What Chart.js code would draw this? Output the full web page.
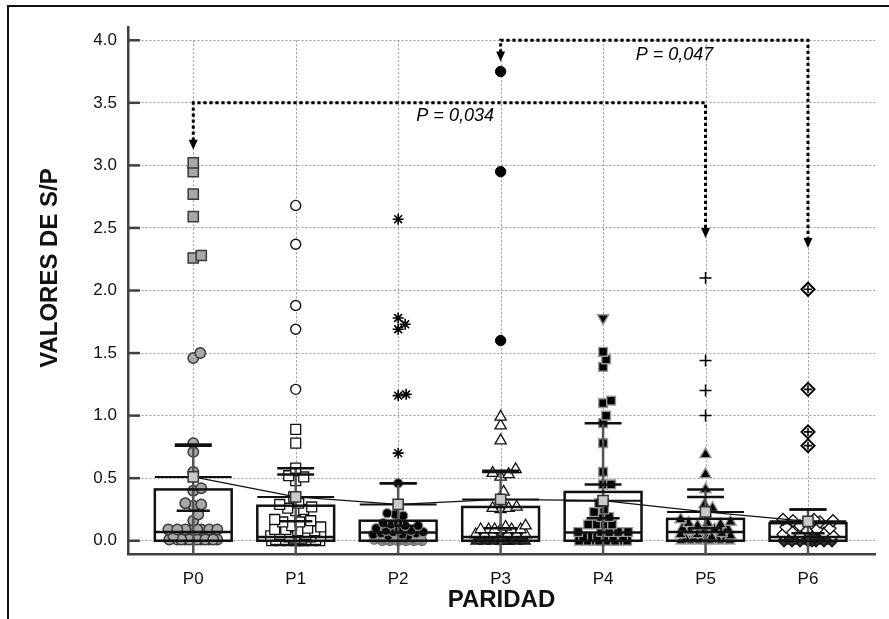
<!DOCTYPE html>
<html>
<head>
<meta charset="utf-8">
<script src="https://cdn.jsdelivr.net/npm/chart.js@4.4.1/dist/chart.umd.min.js"></script>
<style>
    html, body { margin: 0; padding: 0; background: #fff; }
    #wrap { position: relative; width: 889px; height: 619px; overflow: hidden; }
    #wrap canvas { position: absolute; left: 0; top: 0; }
    #frame { position: absolute; left: 7px; top: 5px; width: 900px; height: 700px; border-left: 2px solid #111; border-top: 2px solid #111; pointer-events: none; }
</style>
</head>
<body>
<div id="wrap">
    <canvas id="spChart" width="889" height="619"></canvas>
    <div id="frame"></div>
</div>
<script>
// DATA
const categories = ['P0', 'P1', 'P2', 'P3', 'P4', 'P5', 'P6'];
const yTicks = [0, 0.5, 1, 1.5, 2, 2.5, 3, 3.5, 4];

// box summary per parity group
const boxLow    = [0, 0, 0, 0, 0, 0, 0];
const boxHigh   = [0.41, 0.28, 0.16, 0.27, 0.39, 0.175, 0.14];
const medians   = [0.07, 0.03, 0.065, 0.03, 0.065, 0.07, 0.03];
const means     = [0.51, 0.35, 0.29, 0.33, 0.32, 0.23, 0.155];
const whiskerTop = [0.77, 0.58, 0.46, 0.56, 0.94, 0.41, 0.25];
const ciHigh    = [0.76, 0.53, 0.46, 0.55, 0.45, 0.35, 0.25];
const ciLow     = [0.24, 0.155, 0.12, 0.10, 0.18, 0.10, 0.06];

// individual S/P values
const valuesP0 = [1.50, 1.46, 0.78, 0.71, 0.55, 0.42, 0.40, 0.30, 0.29, 0.28, 0.21, 0.16,
    0.09, 0.09, 0.09, 0.09, 0.09, 0.09, 0.09, 0.09, 0.04,
    0.01, 0.01, 0.01, 0.01, 0.01, 0.01, 0.01, 0.01, 0.01, 0.01, 0.01, 0.01];
const outliersP0 = [3.02, 2.95, 2.77, 2.59, 2.28, 2.26];

const valuesP1 = [0.89, 0.78, 0.58, 0.52, 0.51, 0.48, 0.35, 0.30, 0.29, 0.27, 0.26, 0.25, 0.24,
    0.17, 0.16, 0.15, 0.15, 0.12, 0.11, 0.10, 0.09, 0.09, 0.08, 0.08, 0.05, 0.05, 0.04, 0.04,
    0.03, 0.03, 0.02, 0.02, 0.01, 0.01, 0.01, 0.01, 0.01, 0.01,
    0.0, 0.0, 0.0, 0.0, 0.0, 0.0, 0.0, 0.0];
const outliersP1 = [2.68, 2.37, 1.88, 1.69, 1.21];

const valuesP2 = [0.46, 0.22, 0.21, 0.20, 0.15, 0.14, 0.13, 0.12, 0.12, 0.10, 0.09, 0.08, 0.08,
    0.07, 0.07, 0.06, 0.06, 0.05, 0.05, 0.04, 0.04, 0.03, 0.03,
    0.02, 0.02, 0.02, 0.02, 0.02, 0.02, 0.01, 0.01, 0.01, 0.01, 0.01, 0.01,
    0.0, 0.0, 0.0, 0.0, 0.0, 0.0];
const outliersP2 = [2.57, 1.78, 1.73, 1.69, 1.17, 1.16, 0.70];

const valuesP3 = [0.99, 0.92, 0.80, 0.57, 0.54, 0.53, 0.51, 0.39, 0.33, 0.27, 0.26, 0.26, 0.25,
    0.12, 0.11, 0.09, 0.09, 0.09, 0.09, 0.09, 0.09, 0.05, 0.05, 0.05, 0.05, 0.05, 0.05,
    0.02, 0.02, 0.02, 0.02, 0.02, 0.02, 0.0, 0.0, 0.0, 0.0, 0.0, 0.0, 0.0, 0.0];
const outliersP3 = [3.75, 2.95, 1.60];

const valuesP4 = [1.51, 1.45, 1.39, 1.12, 1.10, 1.00, 0.94, 0.78, 0.55, 0.45, 0.45, 0.30, 0.25, 0.23,
    0.19, 0.19, 0.13, 0.13, 0.13, 0.13, 0.07, 0.07, 0.07, 0.07, 0.07,
    0.03, 0.03, 0.03, 0.03, 0.03, 0.03, 0.0, 0.0, 0.0, 0.0, 0.0, 0.0, 0.0, 0.0, 0.0, 0.0];
const outliersP4 = [1.78];

const valuesP5 = [0.69, 0.53, 0.41, 0.29, 0.26, 0.22, 0.17, 0.15, 0.14, 0.14, 0.13, 0.12, 0.10, 0.10,
    0.09, 0.08, 0.08, 0.06, 0.05, 0.05, 0.04, 0.03, 0.02, 0.02, 0.02, 0.02, 0.02, 0.02,
    0.0, 0.0, 0.0, 0.0, 0.0, 0.0, 0.0, 0.0];
const outliersP5 = [2.10, 1.44, 1.20, 1.00];

const valuesP6 = [0.17, 0.17, 0.16, 0.16, 0.15, 0.15, 0.12, 0.11, 0.10, 0.09, 0.08, 0.07, 0.06,
    0.05, 0.05, 0.04, 0.03, 0.02, 0.02, 0.02, 0.02, 0.02, 0.02, 0.0, 0.0, 0.0, 0.0, 0.0, 0.0, 0.0, 0.0];
const outliersP6 = [2.01, 1.21, 0.87, 0.76];

// significance brackets (category indices, y levels in S/P units)
const brackets = [
    { from: 0, to: 5, level: 3.5, fromTip: 3.125, toTip: 2.42, text: 'P = 0,034', tx: 2.556, ty: 3.397 },
    { from: 3, to: 6, level: 4.0, fromTip: 3.83,  toTip: 2.34, text: 'P = 0,047', tx: 4.698, ty: 3.885 }
];

// LAYOUT / THEME
const FONT = "'Liberation Sans', Arial, sans-serif";
const PX_PER_CAT = 102.5;   // approx pixel size of one category step
const PX_PER_UNIT = 125;    // approx pixel size of 1.0 S/P
const SPREAD = 25;          // max horizontal jitter, px
const BOX_W = 0.75;
const CAP_W = 0.36;

// place points side by side when they overlap (deterministic swarm)
function swarm(values, cat, minDist) {
    const placed = [];
    values.slice().sort((a, b) => a - b).forEach(v => {
        let bestS = 0, bestD = -1;
        for (let k = 0; k <= 2 * SPREAD; k++) {
            const s = k % 2 ? (k + 1) / 2 : -k / 2;
            let d = Infinity;
            placed.forEach(p => { d = Math.min(d, Math.hypot(s - p.s, (v - p.v) * PX_PER_UNIT)); });
            if (d >= minDist) { bestS = s; bestD = d; break; }
            if (d > bestD) { bestD = d; bestS = s; }
        }
        placed.push({ s: bestS, v: v });
    });
    return placed.map(p => ({ x: cat + p.s / PX_PER_CAT, y: p.v }));
}

const low = (ctx, lowColor, color) => (ctx.raw && ctx.raw.y < 0.035 ? lowColor : color);

function pts(values, cat, minDist, style) {
    return Object.assign({ type: 'scatter', order: 1, showLine: false, data: swarm(values, cat, minDist) }, style);
}

// earlier datasets are painted on top
const datasets = [
    {
        id: 'mean', type: 'line', order: 0, showLine: true,
        data: means.map((m, i) => ({ x: i, y: m })),
        borderColor: '#111', borderWidth: 1.3, tension: 0,
        pointStyle: 'rect', pointRadius: 7.2, pointBackgroundColor: '#c9c9c9',
        pointBorderColor: '#333', pointBorderWidth: 1.5
    },
    // P0
    pts(valuesP0, 0, 8, { pointStyle: 'circle', pointRadius: 5.2, pointBackgroundColor: '#a8a8a8', pointBorderColor: '#3a3a3a', pointBorderWidth: 1.5 }),
    pts(outliersP0, 0, 8, { pointStyle: 'rect', pointRadius: 7.2, pointBackgroundColor: '#a8a8a8', pointBorderColor: '#3a3a3a', pointBorderWidth: 1.5 }),
    // P1
    pts(valuesP1, 1, 8, { pointStyle: 'rect', pointRadius: 7, pointBackgroundColor: '#fff', pointBorderColor: '#111', pointBorderWidth: 1.3 }),
    pts(outliersP1, 1, 8, { pointStyle: 'circle', pointRadius: 5, pointBackgroundColor: '#fff', pointBorderColor: '#111', pointBorderWidth: 1.4 }),
    // P2
    pts(valuesP2, 2, 8, { pointStyle: 'circle', pointRadius: 4.6,
        pointBackgroundColor: ctx => low(ctx, '#9a9a9a', '#000'), pointBorderColor: ctx => low(ctx, '#6a6a6a', '#8a8a8a'), pointBorderWidth: 1.2 }),
    pts(outliersP2, 2, 8, { pointStyle: 'star', pointRadius: 5.5, pointBorderColor: '#000', pointBorderWidth: 1.6 }),
    // P3
    pts(valuesP3, 3, 8, { pointStyle: 'triangle', pointRadius: 6.5,
        pointBackgroundColor: ctx => low(ctx, '#444', '#fff'), pointBorderColor: '#111', pointBorderWidth: 1.3 }),
    pts(outliersP3, 3, 8, { pointStyle: 'circle', pointRadius: 5.2, pointBackgroundColor: '#000', pointBorderColor: '#000', pointBorderWidth: 1 }),
    // P4
    pts(valuesP4, 4, 8, { pointStyle: 'rect', pointRadius: 6.2, pointBackgroundColor: '#000', pointBorderColor: '#999', pointBorderWidth: 1.4 }),
    pts(outliersP4, 4, 8, { pointStyle: 'triangle', rotation: 180, pointRadius: 6.5, pointBackgroundColor: '#000', pointBorderColor: '#999', pointBorderWidth: 1.4 }),
    // P5
    pts(valuesP5, 5, 8, { pointStyle: 'triangle', pointRadius: 6.5,
        pointBackgroundColor: '#000', pointBorderColor: ctx => low(ctx, '#aaa', '#999'), pointBorderWidth: 1.4 }),
    pts(outliersP5, 5, 8, { pointStyle: 'cross', pointRadius: 6, pointBorderColor: '#000', pointBorderWidth: 1.5 }),
    // P6 (plus sign above its diamond)
    pts(outliersP6, 6, 8, { pointStyle: 'cross', pointRadius: 4, pointBorderColor: '#000', pointBorderWidth: 1.6 }),
    pts(outliersP6, 6, 8, { pointStyle: 'rectRot', pointRadius: 6.5, pointBackgroundColor: '#fff', pointBorderColor: '#000', pointBorderWidth: 2 }),
    pts(valuesP6, 6, 8, { pointStyle: 'rectRot', pointRadius: 6,
        pointBackgroundColor: ctx => low(ctx, '#333', '#fff'), pointBorderColor: '#111', pointBorderWidth: 1.3 })
];

function hLine(ctx, x1, x2, y) {
    ctx.beginPath(); ctx.moveTo(x1, y); ctx.lineTo(x2, y); ctx.stroke();
}

// BOXES, GRID AND ANNOTATIONS
const boxPlugin = {
    id: 'boxes',
    beforeDatasetsDraw(chart) {
        const { ctx, scales: { x, y }, chartArea } = chart;
        ctx.save();
        ctx.strokeStyle = '#9a9a9a';
        ctx.lineWidth = 1;
        ctx.setLineDash([2, 2]);
        categories.forEach((c, i) => {
            const px = Math.round(x.getPixelForValue(i)) + 0.5;
            ctx.beginPath();
            ctx.moveTo(px, y.getPixelForValue(yTicks[yTicks.length - 1]));
            ctx.lineTo(px, chartArea.bottom);
            ctx.stroke();
        });
        ctx.restore();
    },
    beforeDatasetDraw(chart, args) {
        if (chart.data.datasets[args.index].id !== 'mean') return;
        const { ctx, scales: { x, y }, chartArea } = chart;
        ctx.save();
        categories.forEach((c, i) => {
            const xc = x.getPixelForValue(i);
            const hb = x.getPixelForValue(i + BOX_W / 2) - xc;
            const hc = x.getPixelForValue(i + CAP_W / 2) - xc;
            // whisker stem
            ctx.strokeStyle = '#555';
            ctx.lineWidth = 2.5;
            ctx.beginPath();
            ctx.moveTo(xc, chartArea.bottom);
            ctx.lineTo(xc, y.getPixelForValue(whiskerTop[i]));
            ctx.stroke();
            // box
            ctx.strokeStyle = '#111';
            ctx.lineWidth = 2.5;
            const top = y.getPixelForValue(boxHigh[i]);
            const bot = y.getPixelForValue(boxLow[i]);
            ctx.strokeRect(xc - hb, top, 2 * hb, bot - top);
            hLine(ctx, xc - hb, xc + hb, y.getPixelForValue(medians[i]));
            // mean line and caps
            ctx.lineWidth = 2;
            hLine(ctx, xc - hb, xc + hb, y.getPixelForValue(means[i]));
            ctx.lineWidth = 2.5;
            hLine(ctx, xc - hc, xc + hc, y.getPixelForValue(whiskerTop[i]));
            hLine(ctx, xc - hc, xc + hc, y.getPixelForValue(ciHigh[i]));
            hLine(ctx, xc - hc * 0.9, xc + hc * 0.9, y.getPixelForValue(ciLow[i]));
        });
        ctx.restore();
    },
    afterDatasetsDraw(chart) {
        const { ctx, scales: { x, y } } = chart;
        ctx.save();
        brackets.forEach(b => {
            const x0 = x.getPixelForValue(b.from), x1 = x.getPixelForValue(b.to);
            const yl = y.getPixelForValue(b.level);
            const t0 = y.getPixelForValue(b.fromTip), t1 = y.getPixelForValue(b.toTip);
            ctx.strokeStyle = '#000';
            ctx.lineWidth = 3;
            ctx.setLineDash([3.3, 2.7]);
            ctx.beginPath();
            ctx.moveTo(x0, t0 - 9);
            ctx.lineTo(x0, yl);
            ctx.lineTo(x1, yl);
            ctx.lineTo(x1, t1 - 9);
            ctx.stroke();
            ctx.setLineDash([]);
            ctx.fillStyle = '#000';
            [[x0, t0], [x1, t1]].forEach(([ax, ay]) => {
                ctx.beginPath();
                ctx.moveTo(ax - 4.5, ay - 10);
                ctx.lineTo(ax + 4.5, ay - 10);
                ctx.lineTo(ax, ay);
                ctx.closePath();
                ctx.fill();
            });
            ctx.font = 'italic 18px ' + FONT;
            ctx.textAlign = 'center';
            ctx.textBaseline = 'middle';
            ctx.fillText(b.text, x.getPixelForValue(b.tx), y.getPixelForValue(b.ty));
        });
        ctx.restore();
    },
    afterDraw(chart) {
        const { ctx, scales: { y }, chartArea } = chart;
        ctx.save();
        // inward tick marks
        ctx.strokeStyle = '#404040';
        ctx.lineWidth = 2.5;
        yTicks.forEach(v => hLine(ctx, chartArea.left, chartArea.left + 12, y.getPixelForValue(v)));
        // axis titles
        ctx.fillStyle = '#111';
        ctx.font = 'bold 24px ' + FONT;
        ctx.textAlign = 'center';
        ctx.textBaseline = 'alphabetic';
        ctx.fillText('PARIDAD', (chartArea.left + chartArea.right) / 2, 607);
        ctx.translate(57, 268);
        ctx.rotate(-Math.PI / 2);
        ctx.fillText('VALORES DE S/P', 0, 0);
        ctx.restore();
    }
};

new Chart(document.getElementById('spChart').getContext('2d'), {
    type: 'scatter',
    data: { datasets: datasets },
    options: {
        responsive: false,
        animation: false,
        layout: { padding: { top: 27, right: 14, left: 0, bottom: 0 } },
        plugins: { legend: { display: false }, tooltip: { enabled: false } },
        scales: {
            x: {
                type: 'linear',
                min: -0.637,
                max: 6.654,
                afterBuildTicks: s => { s.ticks = categories.map((c, i) => ({ value: i })); },
                afterFit: s => { s.height = 65; },
                grid: { display: false },
                border: { display: true, color: '#404040', width: 2.5 },
                ticks: {
                    callback: v => categories[v],
                    color: '#111',
                    padding: 7,
                    autoSkip: false,
                    maxRotation: 0,
                    font: { family: FONT, size: 17 }
                }
            },
            y: {
                min: -0.106,
                max: 4.106,
                afterBuildTicks: s => { s.ticks = yTicks.map(v => ({ value: v })); },
                afterFit: s => { s.width = 128; },
                grid: { color: '#9a9a9a', lineWidth: 1, drawTicks: false },
                border: { display: true, color: '#404040', width: 2.5, dash: [2, 2] },
                ticks: {
                    callback: v => v.toFixed(1),
                    color: '#111',
                    padding: 11,
                    font: { family: FONT, size: 17 }
                }
            }
        }
    },
    plugins: [boxPlugin]
});
</script>
</body>
</html>
